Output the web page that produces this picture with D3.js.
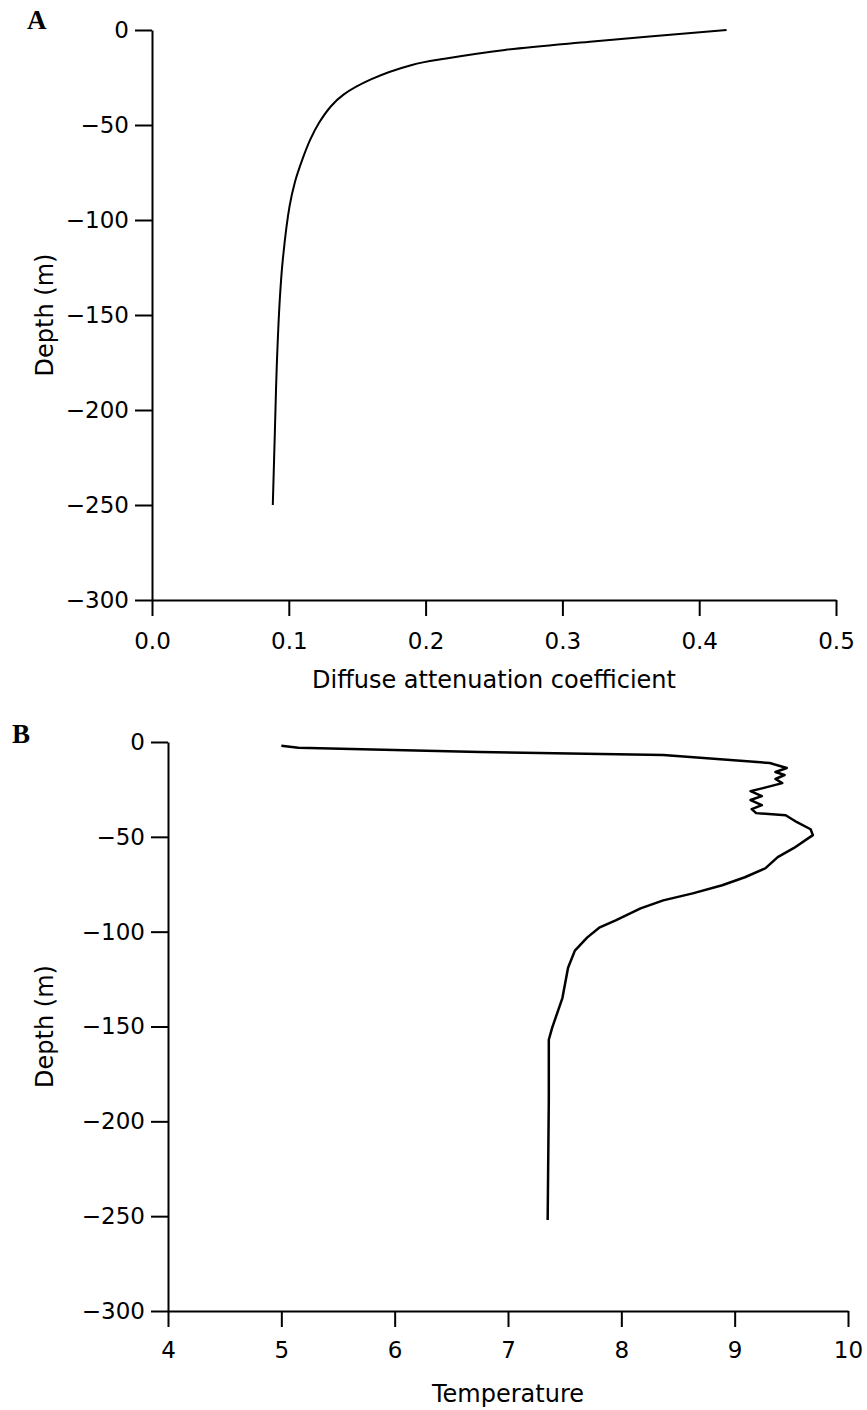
<!DOCTYPE html>
<html>
<head>
<meta charset="utf-8">
<script src="https://cdn.jsdelivr.net/npm/d3@7"></script>
<style>
  body { margin: 0; background: #fff; }
  svg { display: block; }
  .tick text { font-family: "DejaVu Sans", sans-serif; font-size: 23px; fill: #000; }
  .axis path, .axis line { stroke: #000; stroke-width: 2px; }
  .title { font-family: "DejaVu Sans", sans-serif; font-size: 24px; fill: #000; }
  .panel { font-family: "Liberation Serif", serif; font-size: 27px; font-weight: bold; }
</style>
</head>
<body>
<script>
// panel A: diffuse attenuation coefficient vs depth
var attenValues = [0.42, 0.320, 0.258, 0.215, 0.190, 0.160, 0.140, 0.131, 0.122, 0.1155, 0.110, 0.1045, 0.1005, 0.0956, 0.0934, 0.0912, 0.0898, 0.0883];
var attenDepths = [0, -6.2, -10.5, -15, -18.4, -26, -34, -40, -49, -58, -68, -80, -93, -121, -142, -177, -212, -250];

// panel B: temperature vs depth
var tempValues = [5.0, 5.15, 6.75, 8.37, 9.31, 9.46, 9.36, 9.44, 9.36, 9.42, 9.25, 9.14, 9.24, 9.14, 9.24, 9.15, 9.19,
  9.45, 9.55, 9.67, 9.69, 9.52, 9.38, 9.27, 9.09, 8.89, 8.63, 8.37, 8.17, 7.95, 7.81, 7.70, 7.59, 7.53, 7.48, 7.39, 7.36, 7.36, 7.35];
var tempDepths = [-2, -3, -5.3, -6.9, -11.1, -13.7, -15.8, -17.4, -19.5, -21.7, -24.3, -25.9, -28.5, -30.6, -33.3, -35.4, -37.5,
  -38.6, -42.3, -46, -49.1, -56, -60.7, -66.6, -71.3, -75.5, -79.8, -83.5, -87.7, -94, -97.7, -103, -110, -119, -135, -150.6, -157, -189, -252];

var depthTicks = [0, -50, -100, -150, -200, -250, -300];
var attenTicks = [0, 0.1, 0.2, 0.3, 0.4, 0.5];
var tempTicks = [4, 5, 6, 7, 8, 9, 10];

var width = 867, height = 1410;
var svg = d3.select('body').append('svg')
  .attr('width', width)
  .attr('height', height);

var minus = function(s) { return s.replace('-', '\u2212'); };

var drawPanel = function(opt) {
  var x = d3.scaleLinear().domain(opt.xDomain).range([opt.left, opt.right]);
  var y = d3.scaleLinear().domain([0, -300]).range([opt.top, opt.bottom]);

  // y axis
  svg.append('g')
    .attr('class', 'axis')
    .attr('transform', 'translate(' + opt.left + ',0)')
    .call(d3.axisLeft(y).tickValues(depthTicks).tickSize(17).tickSizeOuter(0).tickPadding(6)
      .tickFormat(function(d) { return minus(d3.format('d')(d)); }));

  // x axis
  svg.append('g')
    .attr('class', 'axis')
    .attr('transform', 'translate(0,' + opt.bottom + ')')
    .call(d3.axisBottom(x).tickValues(opt.xTicks).tickSize(16).tickSizeOuter(0).tickPadding(opt.xPad)
      .tickFormat(d3.format(opt.xFormat)));

  // axis titles
  svg.append('text')
    .attr('class', 'title')
    .attr('x', (opt.left + opt.right) / 2)
    .attr('y', opt.bottom + opt.titleGap)
    .attr('text-anchor', 'middle')
    .text(opt.xTitle);

  svg.append('text')
    .attr('class', 'title')
    .attr('transform', 'translate(53,' + (opt.top + opt.bottom) / 2 + ') rotate(-90)')
    .attr('text-anchor', 'middle')
    .text('Depth (m)');

  // panel letter
  svg.append('text')
    .attr('class', 'panel')
    .attr('x', opt.letterX)
    .attr('y', opt.letterY)
    .text(opt.letter);

  // profile
  var line = d3.line()
    .x(function(d) { return x(d[0]); })
    .y(function(d) { return y(d[1]); })
    .curve(opt.curve);

  svg.append('path')
    .datum(d3.zip(opt.values, opt.depths))
    .attr('d', line)
    .attr('fill', 'none')
    .attr('stroke', '#000')
    .attr('stroke-width', opt.lineWidth)
    .attr('stroke-linejoin', 'round');
};

drawPanel({
  left: 152, right: 836, top: 30, bottom: 600,
  xDomain: [0, 0.5], xTicks: attenTicks, xFormat: '.1f', xPad: 17,
  xTitle: 'Diffuse attenuation coefficient', titleGap: 88,
  values: attenValues, depths: attenDepths,
  curve: d3.curveCatmullRom.alpha(0.5), lineWidth: 2,
  letter: 'A', letterX: 27, letterY: 29
});

drawPanel({
  left: 168, right: 848, top: 742, bottom: 1311,
  xDomain: [4, 10], xTicks: tempTicks, xFormat: 'd', xPad: 15,
  xTitle: 'Temperature', titleGap: 91,
  values: tempValues, depths: tempDepths,
  curve: d3.curveLinear, lineWidth: 2.5,
  letter: 'B', letterX: 12, letterY: 743
});
</script>
</body>
</html>
